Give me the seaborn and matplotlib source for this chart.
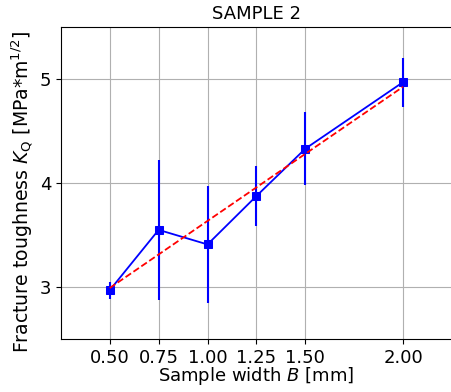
import numpy as np
import pandas as pd
import seaborn as sns
import matplotlib
matplotlib.use("Agg")
import matplotlib.pyplot as plt

# Sample widths and measured fracture toughness (mean +/- error)
widths = [0.50, 0.75, 1.00, 1.25, 1.50, 2.00]
kq_mean = [2.97, 3.55, 3.41, 3.875, 4.33, 4.97]
kq_err = [0.08, 0.675, 0.565, 0.285, 0.35, 0.235]
tick_labels = ["0.50", "0.75", "1.00", "1.25", "1.50", "2.00"]

df = pd.DataFrame({"B": widths, "KQ": kq_mean, "err": kq_err})

# Linear fit through the data
slope, intercept = np.polyfit(df["B"], df["KQ"], 1)
fit_x = [min(widths), max(widths)]
fit_df = pd.DataFrame({"B": fit_x, "KQ": [slope * x + intercept for x in fit_x]})

plt.rcParams["font.size"] = 13

fig, ax = plt.subplots(figsize=(4.51, 3.92), dpi=100)
fig.subplots_adjust(left=0.135, right=1.002, bottom=0.135, top=0.931)

ax.errorbar(df["B"], df["KQ"], yerr=df["err"], fmt="none", ecolor="b", elinewidth=1.5, zorder=3)
sns.lineplot(data=df, x="B", y="KQ", color="b", marker="s", markersize=6,
             markeredgecolor="b", linewidth=1.3, ax=ax, zorder=4)
sns.lineplot(data=fit_df, x="B", y="KQ", color="r", linestyle="--", linewidth=1.3, ax=ax, zorder=5)

ax.set_xlim(0.25, 2.25)
ax.set_ylim(2.5, 5.5)
ax.set_xticks(widths)
ax.set_xticklabels(tick_labels)
ax.set_yticks([3, 4, 5])
ax.grid(True)
ax.set_axisbelow(True)

ax.set_title("SAMPLE 2", fontsize=13)
ax.set_xlabel("Sample width $B$ [mm]", labelpad=-1)
ax.set_ylabel(r"Fracture toughness $K_\mathregular{Q}$ [MPa*m$^\mathregular{1/2}$]", fontsize=13.6)
ax.yaxis.set_label_coords(-0.066, 0.47)

fig.savefig("out.png", dpi=100)
